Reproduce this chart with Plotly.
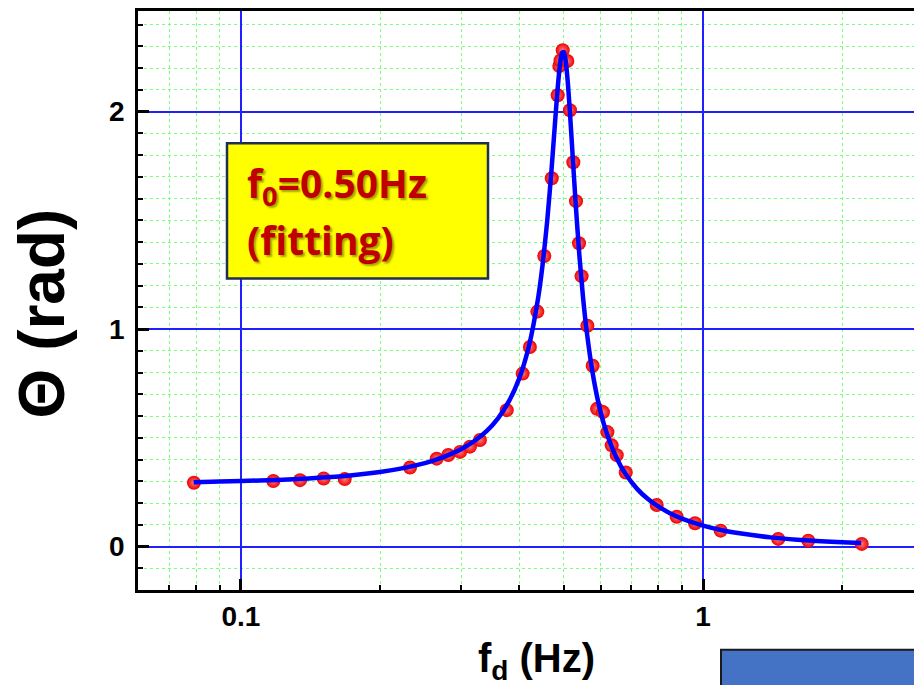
import plotly.graph_objects as go

# measured points (f_d in Hz, Theta in rad)
freq_meas = [0.0791, 0.1175, 0.1342, 0.151, 0.1677, 0.2322, 0.2652, 0.281, 0.298, 0.313,
             0.329, 0.376, 0.407, 0.422, 0.438, 0.4534, 0.4706, 0.4847, 0.4887, 0.4915,
             0.497, 0.5085, 0.5153, 0.524, 0.531, 0.539, 0.546, 0.562, 0.577, 0.5896,
             0.6075, 0.621, 0.6345, 0.6505, 0.6804, 0.794, 0.877, 0.961, 1.092, 1.455,
             1.69, 2.206]
theta_meas = [0.293, 0.301, 0.305, 0.313, 0.31, 0.363, 0.404, 0.421, 0.435, 0.459,
              0.49, 0.627, 0.795, 0.917, 1.080, 1.336, 1.693, 2.075, 2.209, 2.235,
              2.282, 2.232, 2.006, 1.767, 1.588, 1.394, 1.243, 1.015, 0.831, 0.633,
              0.618, 0.526, 0.465, 0.42, 0.34, 0.191, 0.137, 0.107, 0.073, 0.035,
              0.027, 0.012]

# fitted curve
freq_fit = [0.079, 0.09, 0.1, 0.12, 0.14, 0.16, 0.18, 0.2, 0.22, 0.24, 0.26, 0.28, 0.3,
            0.32, 0.34, 0.36, 0.38, 0.4, 0.42, 0.44, 0.45, 0.46, 0.47, 0.48, 0.485, 0.49,
            0.495, 0.5, 0.505, 0.51, 0.515, 0.52, 0.53, 0.54, 0.55, 0.56, 0.58, 0.6, 0.62,
            0.65, 0.68, 0.72, 0.76, 0.8, 0.85, 0.9, 1.0, 1.1, 1.2, 1.4, 1.6, 1.8, 2.0, 2.2]
theta_fit = [0.296, 0.299, 0.301, 0.306, 0.313, 0.321, 0.331, 0.343, 0.357, 0.374, 0.394,
             0.419, 0.448, 0.485, 0.530, 0.589, 0.667, 0.772, 0.922, 1.147, 1.303, 1.496,
             1.732, 1.993, 2.114, 2.211, 2.269, 2.274, 2.224, 2.128, 2.002, 1.860, 1.580,
             1.339, 1.145, 0.991, 0.769, 0.620, 0.516, 0.407, 0.333, 0.265, 0.218, 0.184,
             0.152, 0.128, 0.096, 0.075, 0.061, 0.042, 0.031, 0.024, 0.019, 0.016]

x_major = [0.1, 1, 10]
x_major_text = ["0.1", "1", "10"]
x_minor = [0.06, 0.07, 0.08, 0.09, 0.2, 0.3, 0.4, 0.5, 0.6, 0.7, 0.8, 0.9,
           2, 3, 4, 5, 6, 7, 8, 9]
y_major = [0, 1, 2]
y_minor = [-0.1, 0.1, 0.2, 0.3, 0.4, 0.5, 0.6, 0.7, 0.8, 0.9,
           1.1, 1.2, 1.3, 1.4, 1.5, 1.6, 1.7, 1.8, 1.9,
           2.1, 2.2, 2.3, 2.4]

W, H = 922, 685
L, R, T, B = 130, 0, 0, 103
pw, ph = W - L - R, H - T - B

def fx(xpix):
    return (xpix - L) / pw

def fy(ypix):
    return (H - B - ypix) / ph

FONT = "Arial, Liberation Sans, sans-serif"
BOXFONT = "Open Sans, Lato, sans-serif"

fig = go.Figure()
fig.add_trace(go.Scatter(
    x=freq_meas, y=theta_meas, mode="markers",
    marker=dict(size=14, color="#ee0000",
                gradient=dict(type="radial", color="#ff7a7a"),
                line=dict(width=0)),
    showlegend=False, hoverinfo="x+y"))
fig.add_trace(go.Scatter(
    x=freq_fit, y=theta_fit, mode="lines",
    line=dict(color="#0000ff", width=4.5, shape="spline", smoothing=0.6),
    showlegend=False))

fig.update_xaxes(
    type="log", range=[-1.2229, 0.4913],
    tickmode="array", tickvals=x_major, ticktext=x_major_text,
    ticks="inside", ticklen=11, tickwidth=2.5, tickcolor="black",
    showline=True, linecolor="black", linewidth=2.5, mirror=True,
    showgrid=True, gridcolor="#2020ff", gridwidth=1.6,
    zeroline=False,
    tickfont=dict(family=FONT, size=28, color="black", weight="bold"),
    ticklabelstandoff=0,
    minor=dict(tickmode="array", tickvals=x_minor, ticks="inside", ticklen=5,
               tickwidth=2, tickcolor="black", showgrid=True,
               gridcolor="#7dff7d", griddash="dot", gridwidth=1.2),
)
fig.update_yaxes(
    range=[-0.2, 2.4622],
    tickmode="array", tickvals=y_major,
    ticks="inside", ticklen=11, tickwidth=2.5, tickcolor="black",
    showline=True, linecolor="black", linewidth=2.5, mirror=False,
    showgrid=True, gridcolor="#2020ff", gridwidth=1.6,
    zeroline=False,
    tickfont=dict(family=FONT, size=28, color="black", weight="bold"),
    ticklabelstandoff=5,
    minor=dict(tickmode="array", tickvals=y_minor, ticks="inside", ticklen=5,
               tickwidth=2, tickcolor="black", showgrid=True,
               gridcolor="#7dff7d", griddash="dot", gridwidth=1.2),
)

shapes = [
    # yellow label box
    dict(type="rect", xref="paper", yref="paper",
         x0=fx(219), x1=fx(480), y0=fy(269), y1=fy(133),
         fillcolor="#ffff00", line=dict(color="#1f2f4f", width=2.5), layer="above"),
    # blue block at lower right
    dict(type="rect", xref="paper", yref="paper",
         x0=fx(713), x1=fx(940), y0=fy(720), y1=fy(642),
         fillcolor="#4472c4", line=dict(color="#1a1a1a", width=2), layer="above"),
]

annotations = []
box_lines = [("f<sub>0</sub>=0.50Hz", 175), ("(fitting)", 230)]
for txt, ycen in box_lines:
    annotations.append(dict(
        text=txt, xref="paper", yref="paper", x=fx(237), y=fy(ycen),
        xanchor="left", yanchor="middle", showarrow=False,
        font=dict(family=BOXFONT, size=39, color="#c00000", weight="bold",
                  shadow="2px 2px 2px rgba(90,90,0,0.55)")))

annotations.append(dict(
    text="\u0398 (rad)", xref="paper", yref="paper", x=fx(34), y=fy(304),
    xanchor="center", yanchor="middle", textangle=-90, showarrow=False,
    font=dict(family=FONT, size=64, color="black", weight="bold")))
annotations.append(dict(
    text="f<sub>d</sub> (Hz)", xref="paper", yref="paper", x=fx(528), y=fy(653),
    xanchor="center", yanchor="middle", showarrow=False,
    font=dict(family=FONT, size=40, color="black", weight="bold")))

fig.update_layout(
    width=W, height=H,
    margin=dict(l=L, r=R, t=T, b=B),
    paper_bgcolor="white", plot_bgcolor="white",
    shapes=shapes, annotations=annotations,
    showlegend=False,
)

fig.write_html("out.html")
